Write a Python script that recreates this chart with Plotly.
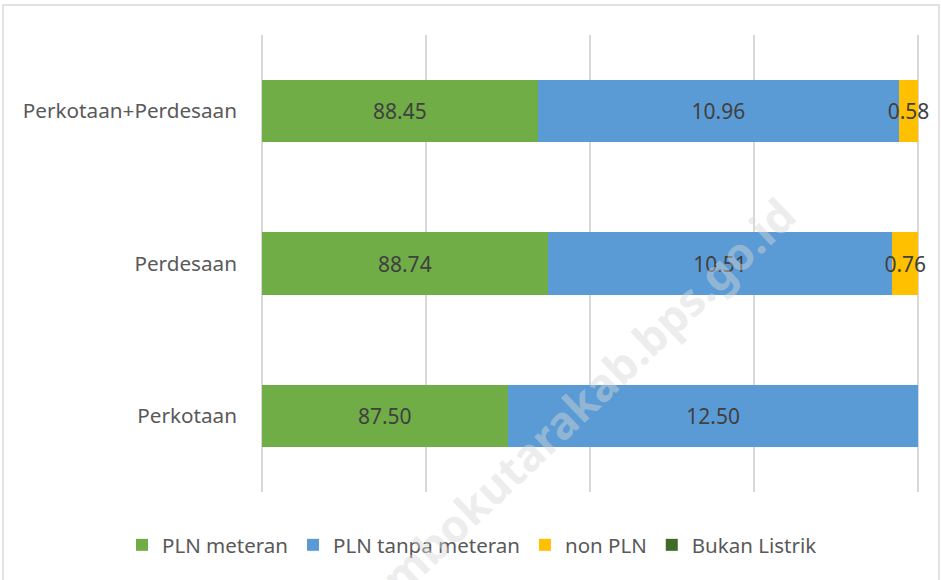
import plotly.graph_objects as go

# Kategori (urutan bawah ke atas)
categories = ["Perkotaan", "Perdesaan", "Perkotaan+Perdesaan"]
series_names = ["PLN meteran", "PLN tanpa meteran", "non PLN", "Bukan Listrik"]

# Panjang batang seperti yang tergambar (persen dari sumbu 0-100)
pln_meteran_len = [37.5, 43.6, 42.1]
pln_tanpa_len = [62.5, 52.4, 54.9]
non_pln_len = [0.0, 4.0, 3.0]
bukan_listrik_len = [0.0, 0.0, 0.0]

# Label data yang tertulis pada batang
pln_meteran_lbl = ["87.50", "88.74", "88.45"]
pln_tanpa_lbl = ["12.50", "10.51", "10.96"]
non_pln_lbl = ["", "0.76", "0.58"]
bukan_listrik_lbl = ["", "", ""]

colors = ["#70AD47", "#5B9BD5", "#FFC000", "#3F6A28"]
FONT = "Noto Sans"

fig = go.Figure()
for name, lens, lbls, col in zip(
    series_names,
    [pln_meteran_len, pln_tanpa_len, non_pln_len, bukan_listrik_len],
    [pln_meteran_lbl, pln_tanpa_lbl, non_pln_lbl, bukan_listrik_lbl],
    colors,
):
    fig.add_trace(go.Bar(
        y=categories, x=lens, name=name, orientation="h",
        marker=dict(color=col, line=dict(width=0)),
        text=lbls, textposition="inside", insidetextanchor="middle",
        textangle=0, constraintext="none", cliponaxis=False,
        textfont=dict(family=FONT, size=21, color="#404040"),
        hoverinfo="skip",
    ))

# garis tepi area grafik
fig.add_shape(type="rect", xref="paper", yref="paper",
              x0=(3 - 260) / 660, x1=(939 - 260) / 660,
              y0=(492 - 600) / 457, y1=(492 - 5) / 457,
              line=dict(color="#D9D9D9", width=1.5), layer="below")

# watermark
fig.add_annotation(text="<b>lombokutarakab.bps.go.id</b>", xref="paper", yref="paper",
                   x=(572 - 260) / 660, y=(492 - 410) / 457, showarrow=False,
                   xanchor="center", yanchor="middle",
                   textangle=-43.6, font=dict(family=FONT, size=45, color="rgba(215,215,215,0.45)"))

fig.update_layout(
    barmode="stack", bargap=0.59,
    width=941, height=580,
    margin=dict(l=260, r=21, t=35, b=88),
    paper_bgcolor="white", plot_bgcolor="white",
    font=dict(family=FONT, size=21, color="#595959"),
    uniformtext=dict(minsize=21, mode="show"),
    showlegend=True,
    legend=dict(orientation="h", x=(122 - 260) / 660, xanchor="left",
                y=(492 - 545) / 457, yanchor="middle",
                font=dict(size=20.5, color="#595959"), traceorder="normal",
                itemwidth=30),
    xaxis=dict(range=[-0.25, 100.25], tickvals=[0, 25, 50, 75, 100], showticklabels=False,
               showgrid=True, gridcolor="#D9D9D9", gridwidth=1.5,
               zeroline=False, showline=False, fixedrange=True),
    yaxis=dict(showgrid=False, zeroline=False, showline=False, ticks="",
               ticklabelstandoff=22, tickfont=dict(size=20.7, color="#595959")),
)

fig.write_html("out.html", config={"displayModeBar": False},
               post_script="document.body.style.margin='0';")
